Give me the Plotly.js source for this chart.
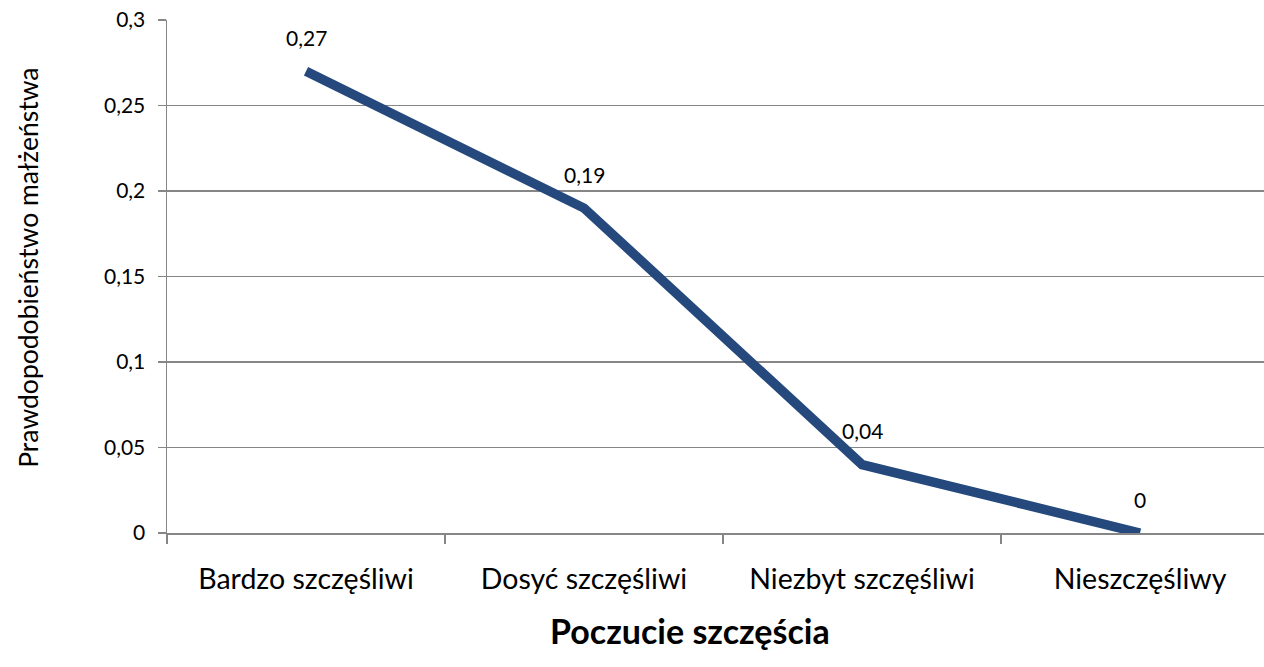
<!DOCTYPE html>
<html>
<head>
<meta charset="utf-8">
<script src="https://cdn.plot.ly/plotly-3.0.1.min.js"></script>
<style>html,body{margin:0;padding:0;background:#fff;}#chart{width:1264px;height:667px;}</style>
</head>
<body>
<div id="chart"></div>
<script>
const categories = ["Bardzo szczęśliwi", "Dosyć szczęśliwi", "Niezbyt szczęśliwi", "Nieszczęśliwy"];
const values = [0.27, 0.19, 0.04, 0];
const valueLabels = ["0,27", "0,19", "0,04", "0"];
const yTickVals = [0, 0.05, 0.1, 0.15, 0.2, 0.25, 0.3];
const yTickText = ["0", "0,05", "0,1", "0,15", "0,2", "0,25", "0,3"];
const xTitle = "Poczucie szczęścia";
const yTitle = "Prawdopodobieństwo małżeństwa";

const FONT = "Lato, 'Open Sans', sans-serif";
const trace = {
  type: "scatter",
  mode: "lines",
  x: categories,
  y: values,
  line: {color: "#25497C", width: 9.5},
  hoverinfo: "none"
};
const annotations = categories.map((c, i) => ({
  x: c, y: values[i], xref: "x", yref: "y",
  text: valueLabels[i], showarrow: false, yshift: 34,
  font: {family: FONT, size: 21, color: "#000"}
}));
annotations.push({
  xref: "paper", yref: "paper", x: 0.4768, y: -0.19,
  xanchor: "center", yanchor: "middle", showarrow: false,
  text: "<b>" + xTitle + "</b>",
  font: {family: FONT, size: 34, color: "#000"}
});
annotations.push({
  xref: "paper", yref: "paper", x: -0.1267, y: 0.517,
  xanchor: "center", yanchor: "middle", showarrow: false, textangle: -90,
  text: yTitle,
  font: {family: FONT, size: 26.5, color: "#000"}
});
const layout = {
  width: 1264, height: 667,
  margin: {l: 167, r: 0, t: 20, b: 134},
  paper_bgcolor: "#fff", plot_bgcolor: "#fff",
  showlegend: false,
  font: {family: FONT, color: "#000"},
  xaxis: {
    type: "category",
    range: [-0.5, 3.446],
    tickson: "boundaries",
    ticks: "outside", ticklen: 9, tickcolor: "#868686", tickwidth: 1.5,
    showgrid: false,
    showline: true, linecolor: "#868686", linewidth: 1.5,
    tickfont: {family: FONT, size: 28.5, color: "#000"},
    ticklabelstandoff: 20,
    fixedrange: true
  },
  yaxis: {
    range: [0, 0.3],
    tickmode: "array", tickvals: yTickVals, ticktext: yTickText,
    ticks: "outside", ticklen: 8, tickcolor: "#868686", tickwidth: 1.5,
    showgrid: true, gridcolor: "#868686", gridwidth: 1.5,
    zeroline: false,
    showline: true, linecolor: "#868686", linewidth: 1.5,
    tickfont: {family: FONT, size: 21, color: "#000"},
    ticklabelstandoff: 8,
    fixedrange: true
  },
  annotations: annotations
};
Plotly.newPlot("chart", [trace], layout, {displayModeBar: false, staticPlot: true});
</script>
</body>
</html>
